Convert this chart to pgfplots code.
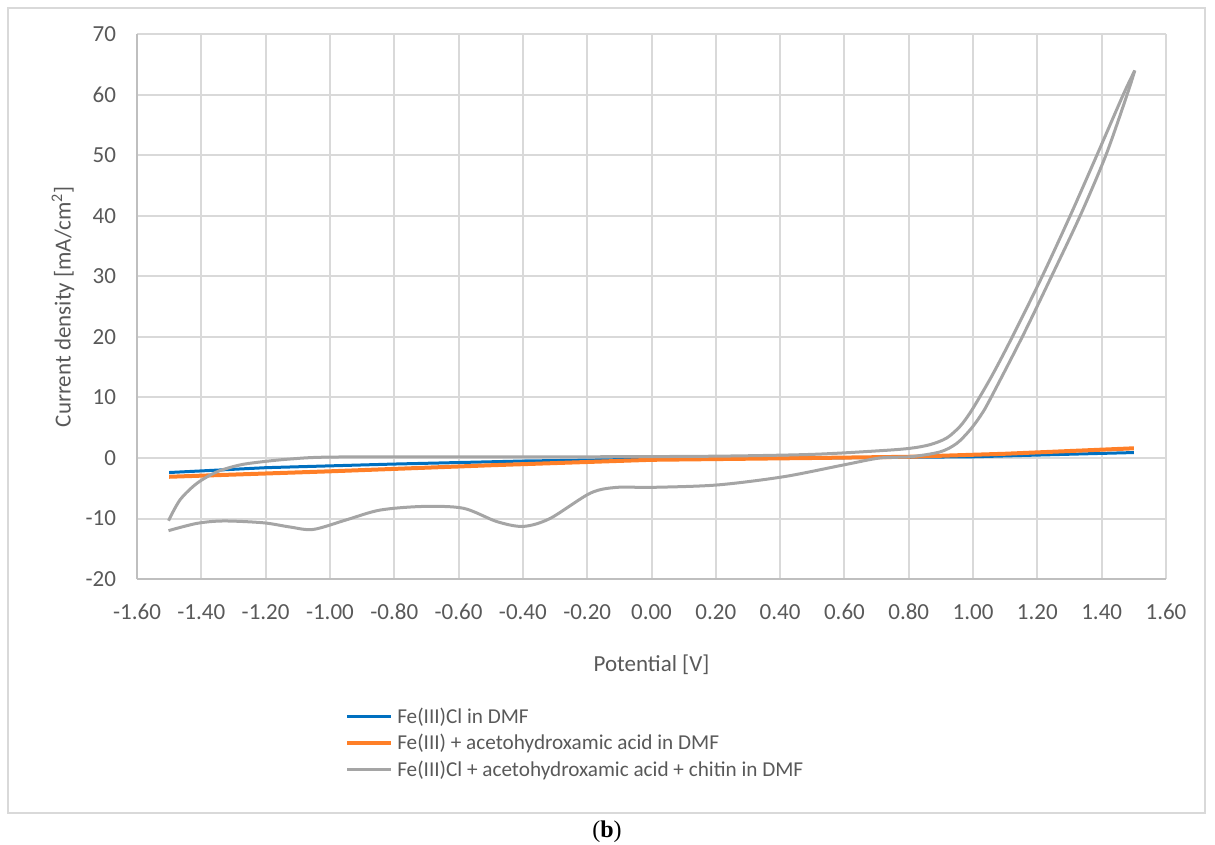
\documentclass[border=0pt]{standalone}
\usepackage{fontspec}
\setmainfont{Carlito}
\newfontfamily\capfont{Liberation Serif}
\usepackage{pgfplots}
\pgfplotsset{compat=1.18}
\definecolor{txtgray}{HTML}{595959}
\definecolor{gridgray}{HTML}{D9D9D9}
\definecolor{axgray}{HTML}{BFBFBF}
\definecolor{xlblue}{HTML}{0070C0}
\definecolor{xlorange}{HTML}{FF7F27}
\definecolor{xlgray}{HTML}{A5A5A5}
\begin{document}
\begin{tikzpicture}
% page = 1215 x 845 px at 2 px per pt
\path[use as bounding box] (0pt,0pt) rectangle (607.5pt,422.5pt);
\draw[gridgray, line width=1pt] (4pt,418.5pt) rectangle (602.5pt,16pt);
\node[font=\capfont\fontsize{12}{14}\selectfont, text=black] at (303.5pt,6.5pt) {(\textbf{b})};
\begin{axis}[
    at={(325.75pt,193.5pt)}, anchor=origin,
    scale only axis, width=514.5pt, height=272.5pt,
    xmin=-1.6, xmax=1.6, ymin=-20, ymax=70,
    xtick={-1.6,-1.4,...,1.61},
    ytick={-20,-10,...,70},
    axis lines=left,
    axis line style={draw=axgray, line width=1pt, -},
    grid=major,
    major grid style={draw=gridgray, line width=1pt},
    major tick length=0pt,
    tick label style={font=\fontsize{11.5}{13}\selectfont, text=txtgray},
    /pgf/number format/assume math mode=true,
    xticklabel style={/pgf/number format/fixed, /pgf/number format/fixed zerofill,
        /pgf/number format/precision=2, yshift=-9pt},
    yticklabel style={xshift=-7pt},
    xlabel={Potential [V]},
    ylabel={Current density [mA/cm\textsuperscript{2}]},
    every axis x label/.style={at={(rel axis cs:0.5,0)}, yshift=-43pt, anchor=center,
        font=\fontsize{11.5}{13}\selectfont, text=txtgray},
    every axis y label/.style={at={(rel axis cs:0,0.5)}, xshift=-37pt, rotate=90, anchor=center,
        font=\fontsize{11.5}{13}\selectfont, text=txtgray},
    legend style={at={(rel axis cs:0.202,0)}, yshift=-62pt, anchor=north west,
        draw=none, fill=none, font=\fontsize{10.6}{12}\selectfont, text=txtgray,
        row sep=0pt, inner sep=0pt},
    legend cell align=left,
    legend image code/.code={\draw[#1] (0pt,0pt) -- (22pt,0pt);},
    clip=false,
]
\addplot[color=xlblue, line width=1.5pt] coordinates {
    (-1.5,-2.4) (-1.2,-1.6) (-0.8,-1.0) (-0.4,-0.5) (0.0,-0.2) (0.5,0.0) (1.0,0.2) (1.5,0.9)
};
\addlegendentry{Fe(III)Cl in DMF}
\addplot[color=xlorange, line width=2pt] coordinates {
    (-1.5,-3.1) (-1.0,-2.2) (-0.5,-1.2) (0.0,-0.3) (0.5,0.0) (0.8,0.2) (1.1,0.7) (1.5,1.6)
};
\addlegendentry{Fe(III) + acetohydroxamic acid in DMF}
% forward scan
\addplot[color=xlgray, line width=1.5pt, smooth, tension=0.5] coordinates {
    (-1.502,-10.35) (-1.466,-6.9) (-1.414,-4.2) (-1.352,-2.3) (-1.280,-1.15)
    (-1.207,-0.6) (-1.124,-0.17) (-1.0,0.15) (-0.6,0.2) (-0.2,0.2) (0.2,0.3)
    (0.5,0.6) (0.71,1.2) (0.804,1.6) (0.866,2.2) (0.918,3.3) (0.959,5.2)
    (0.99,7.4) (1.021,10.1) (1.063,14.0) (1.122,20.0) (1.215,30.0)
    (1.302,40.0) (1.385,50.0) (1.467,60.0) (1.503,64.0)
};
\addlegendentry{Fe(III)Cl + acetohydroxamic acid + chitin in DMF}
% reverse scan
\addplot[color=xlgray, line width=1.5pt, smooth, tension=0.5, forget plot] coordinates {
    (1.503,64.0) (1.479,60.0) (1.413,50.0) (1.333,40.0) (1.244,30.0)
    (1.153,20.0) (1.050,9.4) (1.021,6.8) (0.99,4.6) (0.949,2.4)
    (0.897,1.0) (0.804,0.2) (0.71,0.0) (0.597,-1.15) (0.41,-3.1) (0.203,-4.46)
    (0.0,-4.85) (-0.108,-4.85) (-0.19,-5.8) (-0.316,-10.0) (-0.399,-11.3)
    (-0.481,-10.5) (-0.585,-8.3) (-0.71,-8.0) (-0.844,-8.6) (-0.948,-10.2)
    (-1.052,-11.8) (-1.124,-11.4) (-1.207,-10.7) (-1.331,-10.4) (-1.414,-10.8)
    (-1.502,-12.0)
};
\end{axis}
\end{tikzpicture}
\end{document}
